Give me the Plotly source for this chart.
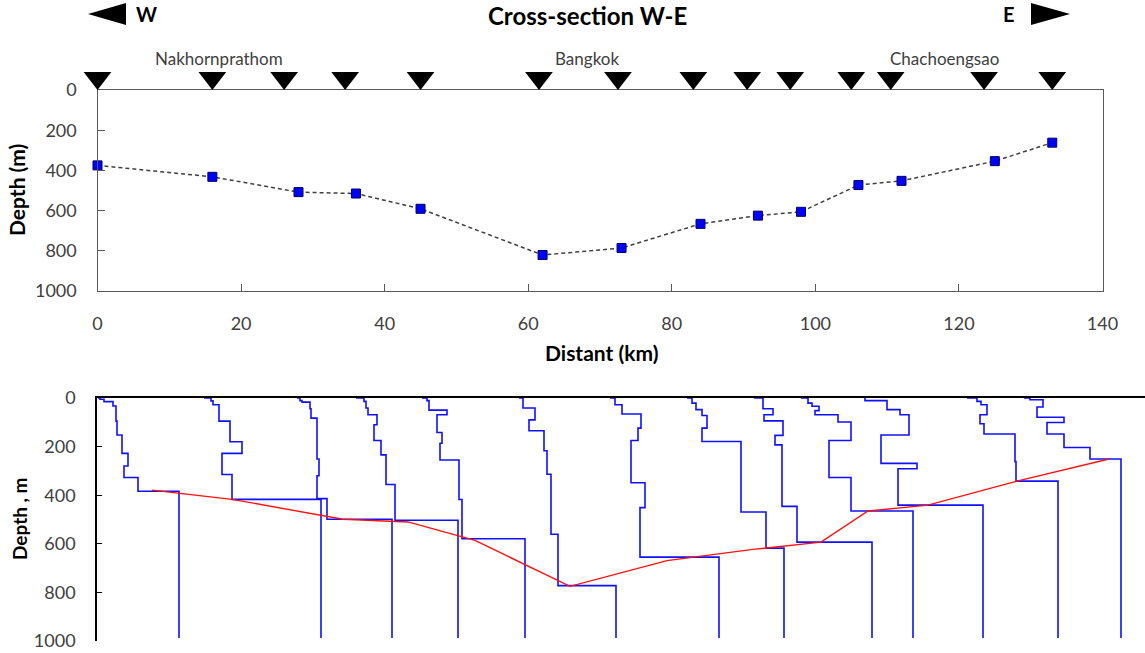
import plotly.graph_objects as go

W, H = 1145, 653

# ---------------- data: top cross-section ----------------
distance_km = [0, 16, 28, 36, 45, 62, 73, 84, 92, 98, 106, 112, 125, 133]
basement_depth_m = [375, 432, 508, 515, 591, 821, 786, 666, 625, 606, 473, 452, 354, 262]
station_km = [0, 16, 26, 34.5, 45, 61.5, 72.5, 83, 90.5, 96.5, 105, 110.5, 123.5, 133]
town_names = ["Nakhornprathom", "Bangkok", "Chachoengsao"]
town_km = [16.9, 68.2, 118]
x_ticks = [0, 20, 40, 60, 80, 100, 120, 140]
depth_ticks = [0, 200, 400, 600, 800, 1000]

# ---------------- data: bottom layered profiles ----------------
# each profile: horizontal offset value of each layer and the depth at the top of that layer
profile_x = [
    [1, 3, 7, 16, 19, 20, 25, 31, 27, 41, 82],
    [107, 114, 116, 122, 133, 145, 125, 135, 224],
    [200, 203, 205, 213, 214, 220, 222, 220, 230, 295],
    [259, 267, 269, 271, 280, 277, 284, 289, 298, 361],
    [325, 330, 332, 350, 340, 345, 343, 362, 365, 428],
    [422, 426, 438, 432, 447, 450, 454, 461, 519],
    [513, 518, 525, 544, 541, 534, 548, 543, 622],
    [590, 595, 599, 605, 610, 605, 644, 669, 687],
    [657, 666, 676, 667, 686, 678, 685, 700, 775],
    [704, 711, 715, 722, 718, 741, 754, 732, 754, 816],
    [768, 790, 803, 812, 784, 820, 801, 886],
    [870, 880, 884, 890, 883, 887, 918, 919, 961],
    [927, 933, 946, 940, 967, 950, 967, 993, 1024],
]
profile_depth = [
    [0, 0, 5, 15, 33, 95, 152, 228, 280, 327, 384],
    [0, 0, 12, 28, 95, 180, 228, 315, 417],
    [0, 0, 11, 17, 44, 83, 251, 320, 414, 499],
    [0, 0, 14, 41, 69, 110, 175, 234, 356, 503],
    [0, 0, 11, 50, 69, 142, 186, 255, 418, 579],
    [0, 0, 41, 90, 135, 217, 314, 561, 772],
    [0, 0, 28, 66, 124, 175, 349, 451, 655],
    [0, 0, 21, 48, 72, 124, 179, 469, 618],
    [0, 0, 44, 69, 94, 154, 193, 446, 593],
    [0, 0, 21, 34, 52, 69, 99, 175, 327, 465],
    [0, 11, 48, 69, 152, 269, 291, 441],
    [0, 0, 14, 28, 69, 106, 148, 262, 342],
    [0, 0, 7, 37, 79, 101, 148, 204, 251],
]
profile_end_depth = 988
basement_x = [55, 135, 246, 311, 378, 473, 570, 656, 724, 771, 831, 920, 1012]
basement_depth = [379, 417, 499, 510, 586, 775, 669, 623, 593, 465, 441, 342, 251]

FONT = "Lato"
GREY = "#595959"
TXT = "#404040"


def px(xp):
    return xp / W


def py(yp):
    return 1 - yp / H


fig = go.Figure()

# top: basement depth line
fig.add_trace(go.Scatter(
    x=distance_km, y=basement_depth_m, mode="lines+markers",
    line=dict(color="#404040", width=1.5, dash="4px,3px"),
    marker=dict(symbol="square", size=9, color="#0000FF", line=dict(color="#000060", width=1)),
    xaxis="x", yaxis="y", cliponaxis=False, hoverinfo="x+y"))

# station triangles (own thin strip axis above the top plot)
fig.add_trace(go.Scatter(
    x=station_km, y=[0] * len(station_km), mode="markers",
    marker=dict(symbol="triangle-down", size=24, color="black", line=dict(width=0)),
    xaxis="x", yaxis="y3", cliponaxis=False, hoverinfo="x"))

# bottom: profiles
for xs, ds in zip(profile_x, profile_depth):
    fig.add_trace(go.Scatter(
        x=xs + [xs[-1]], y=ds + [profile_end_depth], mode="lines",
        line=dict(color="#1010FF", width=1.6, shape="vh"),
        xaxis="x2", yaxis="y2", hoverinfo="y"))

fig.add_trace(go.Scatter(
    x=basement_x, y=basement_depth, mode="lines",
    line=dict(color="#FF1010", width=1.4),
    xaxis="x2", yaxis="y2", hoverinfo="y"))

axis_font = dict(family=FONT, size=18, color=TXT)

fig.update_layout(
    width=W, height=H,
    margin=dict(l=0, r=0, t=0, b=0, autoexpand=False),
    paper_bgcolor="white", plot_bgcolor="white",
    showlegend=False,
    font=dict(family=FONT, color=TXT),
    xaxis=dict(domain=[px(97.5), px(1102.5)], range=[0, 140], anchor="y", automargin=False,
               showline=True, linecolor=GREY, linewidth=1.3, mirror=True,
               ticks="inside", ticklen=7, tickcolor=GREY, tickwidth=1.3,
               tickvals=x_ticks, showgrid=False, zeroline=False,
               tickfont=axis_font, ticklabelstandoff=16),
    yaxis=dict(domain=[py(291), py(90)], range=[1000, 0], anchor="x", automargin=False,
               showline=True, linecolor=GREY, linewidth=1.3, mirror=True,
               ticks="inside", ticklen=7, tickcolor=GREY, tickwidth=1.3,
               tickvals=depth_ticks, showgrid=False, zeroline=False,
               tickfont=axis_font, ticklabelstandoff=16),
    yaxis3=dict(domain=[py(90), py(66)], range=[-1, 1], anchor="x", visible=False, automargin=False),
    xaxis2=dict(domain=[px(97), 1.0], range=[0, 1048], anchor="y2", side="top", automargin=False,
                showline=True, linecolor="black", linewidth=1.6,
                ticks="", showticklabels=False, showgrid=False, zeroline=False),
    yaxis2=dict(domain=[py(641), py(398)], range=[1000, 0], anchor="x2", automargin=False,
                showline=True, linecolor="black", linewidth=1.6,
                ticks="inside", ticklen=5, tickcolor="black", tickwidth=1.3,
                tickvals=depth_ticks, showgrid=False, zeroline=False,
                tickfont=axis_font, ticklabelstandoff=16),
)

ann = [
    dict(text="<b>Cross-section W-E</b>", x=px(587), y=py(15), font=dict(size=24, color="black")),
    dict(text="<b>W</b>", x=px(146), y=py(14), font=dict(size=20, color="black")),
    dict(text="<b>E</b>", x=px(1009), y=py(14), font=dict(size=20, color="black")),
    dict(text="<b>Depth (m)</b>", x=px(16), y=py(190), textangle=-90, font=dict(size=21, color="black")),
    dict(text="<b>Distant (km)</b>", x=px(601), y=py(352), font=dict(size=21, color="black")),
    dict(text="<b>Depth , m</b>", x=px(19), y=py(519), textangle=-90, font=dict(size=19, color="black")),
]
for a in ann:
    a.update(xref="paper", yref="paper", showarrow=False, xanchor="center", yanchor="middle")
    a["font"]["family"] = FONT
for name, km in zip(town_names, town_km):
    ann.append(dict(text=name, x=km, y=py(58), xref="x", yref="paper", showarrow=False,
                    xanchor="center", yanchor="middle", font=dict(family=FONT, size=17, color=TXT)))
fig.update_layout(annotations=ann)


def tri(points):
    p = [f"{px(a)},{py(b)}" for a, b in points]
    return "M " + " L ".join(p) + " Z"


fig.update_layout(shapes=[
    dict(type="path", xref="paper", yref="paper", path=tri([(88, 14), (126, 3), (126, 25)]),
         fillcolor="black", line=dict(width=0)),
    dict(type="path", xref="paper", yref="paper", path=tri([(1070, 14), (1031, 3), (1031, 25)]),
         fillcolor="black", line=dict(width=0)),
])

fig.write_html("out.html", config={"displayModeBar": False},
               post_script="document.body.style.margin='0';document.body.style.padding='0';")
